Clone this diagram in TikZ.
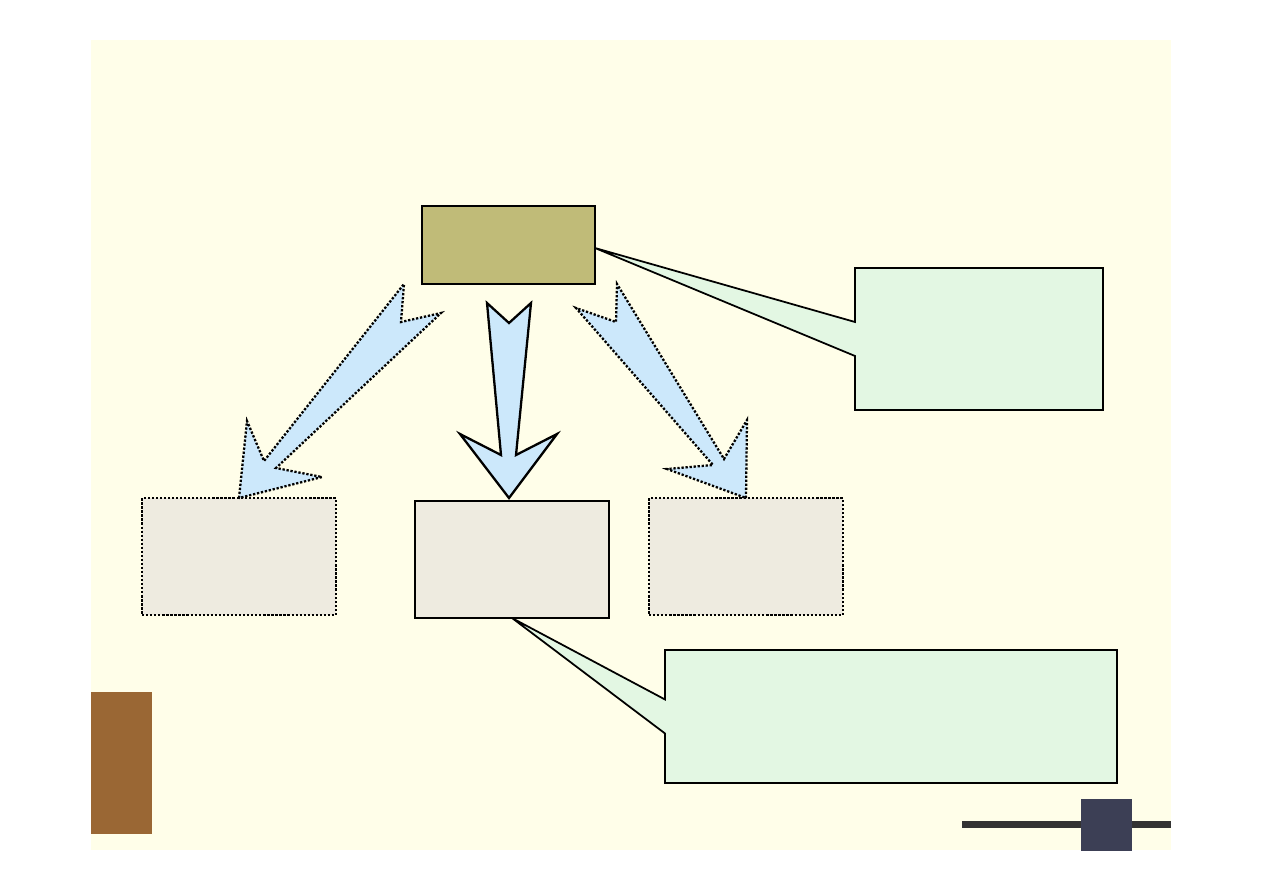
\documentclass[tikz,border=0pt]{standalone}
\usetikzlibrary{calc}
\definecolor{slidecream}{HTML}{FFFEE9}
\definecolor{olivebox}{HTML}{C0BB78}
\definecolor{greybox}{HTML}{EEEBE0}
\definecolor{skyarrow}{HTML}{CCE8FB}
\definecolor{mintnote}{HTML}{E3F7E3}
\definecolor{barbrown}{HTML}{9A6734}
\definecolor{darkline}{HTML}{333333}
\definecolor{navysquare}{HTML}{3C3F55}

\begin{document}
\begin{tikzpicture}[x=0.02cm, y=-0.02cm,
    box/.style={rectangle, inner sep=0pt, outer sep=0pt, fill=greybox, minimum width=3.88cm, minimum height=2.34cm},
    solidbox/.style={box, draw, line width=1pt},
    dotbox/.style={box, draw, line width=1.3pt, densely dotted},
    notebox/.style={rectangle, inner sep=0pt, outer sep=0pt},
    noteshape/.style={fill=mintnote, draw, line width=1pt, line join=miter},
    blockarrow/.style={fill=skyarrow, draw, line width=1.3pt, line join=miter}]
\useasboundingbox (0,0) rectangle (1263,893);
\fill[white] (0,0) rectangle (1263,893);
\fill[slidecream] (91,40) rectangle (1171,850);
\fill[barbrown] (91,692) rectangle (152,834);
\draw[darkline, line width=0.14cm] (962,824) -- (1171,824);
\fill[navysquare] (1081,799) rectangle (1132,851);

\node[solidbox, fill=olivebox, minimum width=3.46cm, minimum height=1.56cm] (top) at (508.5,245) {};
\node[solidbox] (mid) at (512,559.5) {};
\node[dotbox] (left) at (239,556.5) {};
\node[dotbox] (right) at (746,556.5) {};

\node[notebox, minimum width=4.96cm, minimum height=2.84cm] (note1) at (979,339) {};
\draw[noteshape] (note1.north west) -- (note1.north east) -- (note1.south east) -- (note1.south west)
    -- ($(note1.west)+(0,17)$) -- ($(top.east)+(0,3)$) -- ($(note1.west)+(0,-17)$) -- cycle;
\node[notebox, minimum width=9.04cm, minimum height=2.66cm] (note2) at (891,716.5) {};
\draw[noteshape] (note2.north west) -- (note2.north east) -- (note2.south east) -- (note2.south west)
    -- ($(note2.west)+(0,17)$) -- (mid.south) -- ($(note2.west)+(0,-17)$) -- cycle;

\draw[blockarrow] ($(mid.north)+(-3,-3)$) -- (460,434) -- (501,455) -- (487,303) -- (509,323)
    -- (531,303) -- (516,455) -- (557,434) -- cycle;
\draw[blockarrow, densely dotted] (left.north) -- (247,421) -- (264,461) -- (404,284) -- (401,322)
    -- (441,313) -- (276,468) -- (322,477) -- cycle;
\draw[blockarrow, densely dotted] (right.north) -- (747,420) -- (724,459) -- (617,284) -- (616,322)
    -- (576,308) -- (713,465) -- (667,469) -- cycle;
\end{tikzpicture}
\end{document}
